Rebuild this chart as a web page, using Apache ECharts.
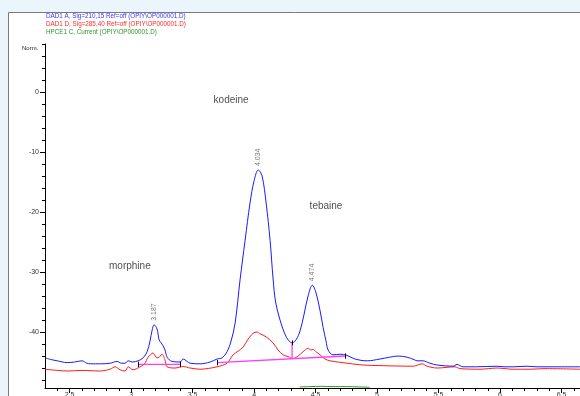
<!DOCTYPE html>
<html><head><meta charset="utf-8">
<script src="https://cdn.jsdelivr.net/npm/echarts@6/dist/echarts.min.js"></script>
<style>html,body{margin:0;padding:0;background:#eaf5fc}#c{width:580px;height:396px}</style>
</head><body><div id="c"></div>
<script>
// DAD1 A (blue) trace: [time (min), Norm.]
const blueTrace = [[2.301,-44.3],[2.35,-44.6],[2.40,-44.8],[2.48,-45.1],[2.54,-45.0],[2.60,-44.8],[2.64,-45.2],[2.67,-45.3],[2.75,-45.3],[2.83,-45.2],[2.886,-44.9],[2.92,-45.2],[2.951,-45.2],[2.976,-44.8],[3.01,-45.0],[3.057,-44.8],[3.098,-44.3],[3.130,-43.3],[3.154,-41.5],[3.171,-39.7],[3.187,-38.8],[3.211,-39.5],[3.228,-41.3],[3.244,-41.8],[3.260,-42.3],[3.276,-43.0],[3.293,-44.2],[3.333,-44.9],[3.398,-45.0],[3.423,-44.5],[3.455,-44.9],[3.480,-45.2],[3.561,-45.3],[3.642,-45.0],[3.699,-44.5],[3.740,-44.3],[3.780,-43.3],[3.813,-41.5],[3.846,-38.5],[3.886,-31.3],[3.927,-24.7],[3.967,-18.5],[4.000,-14.8],[4.034,-13.0],[4.065,-14.0],[4.098,-18.5],[4.130,-24.7],[4.154,-31.0],[4.175,-35.0],[4.211,-38.0],[4.250,-40.3],[4.280,-41.4],[4.309,-41.8],[4.341,-41.3],[4.374,-39.8],[4.407,-37.0],[4.439,-34.0],[4.474,-32.2],[4.504,-33.5],[4.537,-36.5],[4.561,-39.2],[4.585,-41.5],[4.602,-43.0],[4.642,-43.8],[4.699,-43.7],[4.756,-43.9],[4.821,-44.5],[4.919,-44.8],[5.024,-44.5],[5.10,-44.2],[5.171,-44.0],[5.244,-44.2],[5.30,-44.6],[5.325,-44.8],[5.374,-44.8],[5.43,-45.2],[5.488,-45.5],[5.618,-45.7],[5.650,-45.4],[5.699,-45.8],[5.80,-45.8],[5.976,-45.7],[6.04,-45.8],[6.106,-45.8],[6.220,-45.7],[6.30,-45.8],[6.382,-45.8],[6.50,-45.8],[6.650,-45.8]];
// DAD1 D (red) trace
const redTrace = [[2.301,-46.2],[2.40,-46.4],[2.48,-46.5],[2.60,-46.4],[2.748,-46.5],[2.829,-46.2],[2.870,-45.8],[2.911,-46.3],[2.951,-46.5],[2.976,-45.8],[3.016,-46.3],[3.073,-45.8],[3.110,-45.3],[3.138,-44.2],[3.179,-43.5],[3.203,-44.2],[3.220,-44.3],[3.252,-43.7],[3.276,-44.7],[3.293,-45.8],[3.358,-46.0],[3.423,-45.75],[3.480,-46.0],[3.561,-46.2],[3.699,-45.8],[3.780,-45.2],[3.829,-43.8],[3.870,-43.2],[3.911,-42.5],[3.951,-41.2],[3.992,-40.2],[4.024,-40.0],[4.049,-40.3],[4.098,-40.8],[4.154,-41.8],[4.195,-43.0],[4.236,-43.8],[4.276,-44.1],[4.317,-44.4],[4.358,-44.0],[4.398,-43.3],[4.439,-42.7],[4.463,-43.0],[4.480,-42.9],[4.504,-43.3],[4.537,-43.8],[4.577,-44.5],[4.618,-44.8],[4.756,-45.2],[4.886,-45.5],[5.024,-45.6],[5.293,-45.7],[5.366,-45.3],[5.407,-45.7],[5.488,-46.0],[5.634,-45.8],[5.675,-46.1],[5.837,-46.2],[5.976,-46.0],[6.106,-46.2],[6.244,-46.2],[6.366,-46.1],[6.650,-46.2]];
// HPCE1 C current (green)
const greenTrace = [[4.37,-49.15],[4.45,-49.1],[4.55,-49.05],[4.65,-49.1],[4.75,-49.1],[4.85,-49.15],[4.94,-49.2]];
// integration baselines
const baseline1 = [[3.057,-45.4],[3.398,-45.4]];
const baseline2 = [[3.699,-45.1],[4.740,-44.0]];
const dropLine = [[4.309,-41.8],[4.309,-44.46]];
const baselineMarkTimes = [3.057,3.398,3.699,4.740];
const baselineMarkValues = [-45.4,-45.4,-45.1,-44.0];
// peaks
const peakTimes = [3.187,4.034,4.474];
const peakValues = [-38.8,-13.0,-32.2];
// compound annotations
const compoundNames = ['morphine','kodeine','tebaine'];
const compoundTimes = [2.99,3.813,4.585];
const compoundValues = [-29.0,-1.4,-19.0];
// ticks
const xMajorTicks = [2.5,3,3.5,4,4.5,5,5.5,6,6.5];
const xMinorTicks = [2.4,2.5,2.6,2.7,2.8,2.9,3.0,3.1,3.2,3.3,3.4,3.5,3.6,3.7,3.8,3.9,4.0,4.1,4.2,4.3,4.4,4.5,4.6,4.7,4.8,4.9,5.0,5.1,5.2,5.3,5.4,5.5,5.6,5.7,5.8,5.9,6.0,6.1,6.2,6.3,6.4,6.5,6.6];
const yMajorTicks = [-40,-30,-20,-10,0];
const yMinorTicks = [-48,-46,-44,-42,-40,-38,-36,-34,-32,-30,-28,-26,-24,-22,-20,-18,-16,-14,-12,-10,-8,-6,-4,-2,0,2,4,6,8];
const legendLines = ['DAD1 A, Sig=210,15 Ref=off (OPIY\\OP000001.D)','DAD1 D, Sig=285,40 Ref=off (OPIY\\OP000001.D)','HPCE1 C, Current (OPIY\\OP000001.D)'];
const legendColors = ['#3535ff','#ff2a2a','#2e962e'];

const FF = '"Liberation Sans", Arial, sans-serif';
const chart = echarts.init(document.getElementById('c'), null, {renderer:'canvas'});

const graphics = [
  {type:'rect', z:-10, shape:{x:8.5,y:12.5,width:600,height:400}, style:{fill:'#ffffff', stroke:'#7a7a7a', lineWidth:1}},
  {type:'text', z:10, x:22, y:48, style:{text:'Norm.', font:'6px '+FF, fill:'#222', verticalAlign:'middle'}}
];
legendLines.forEach((t,i)=>{
  graphics.push({type:'text', z:10, x:46, y:16+i*8.3, style:{text:t, font:'6.3px '+FF, fill:legendColors[i], verticalAlign:'middle'}});
});

const markSegs = baselineMarkTimes.map((t,i)=>({coords:[[t,baselineMarkValues[i]+0.45],[t,baselineMarkValues[i]-0.45]]}));
markSegs.push({coords:[[4.309,-41.4],[4.309,-42.2]]});

const axisLineStyle = {color:'#000', width:1};
const option = {
  backgroundColor:'#eaf5fc',
  animation:false,
  graphic: graphics,
  grid:{left:45, right:0, top:44, bottom:8, containLabel:false, outerBoundsMode:'none'},
  xAxis:[
    {type:'value', min:2.3, max:6.65, position:'bottom',
     axisLine:{show:true, onZero:false, lineStyle:axisLineStyle},
     axisTick:{show:true, customValues:xMinorTicks, length:3, inside:false, lineStyle:axisLineStyle},
     axisLabel:{show:true, customValues:xMajorTicks, margin:4, fontSize:7, color:'#333', fontFamily:FF, verticalAlign:'top', hideOverlap:false},
     splitLine:{show:false}},
    {type:'value', min:2.3, max:6.65, position:'bottom',
     axisLine:{show:false, onZero:false},
     axisTick:{show:true, customValues:xMajorTicks, length:5, lineStyle:axisLineStyle},
     axisLabel:{show:false}, splitLine:{show:false}}
  ],
  yAxis:[
    {type:'value', min:-49.33, max:8, position:'left',
     axisLine:{show:true, onZero:false, lineStyle:axisLineStyle},
     axisTick:{show:true, customValues:yMinorTicks, length:3, lineStyle:axisLineStyle},
     axisLabel:{show:true, customValues:yMajorTicks, margin:6, fontSize:7, color:'#333', fontFamily:FF},
     splitLine:{show:false}},
    {type:'value', min:-49.33, max:8, position:'left',
     axisLine:{show:false, onZero:false},
     axisTick:{show:true, customValues:yMajorTicks, length:5, lineStyle:axisLineStyle},
     axisLabel:{show:false}, splitLine:{show:false}}
  ],
  series:[
    {type:'line', name:'HPCE1 C', data:greenTrace, showSymbol:false, smooth:0.3, lineStyle:{color:'#2e962e', width:1}, z:3},
    {type:'line', name:'DAD1 D', data:redTrace, showSymbol:false, smooth:0.3, lineStyle:{color:'#ff1a1a', width:1}, z:4},
    {type:'line', name:'DAD1 A', data:blueTrace, showSymbol:false, smooth:0.35, lineStyle:{color:'#1a1aff', width:1}, z:5},
    {type:'line', name:'baseline1', data:baseline1, showSymbol:false, lineStyle:{color:'#ff3cff', width:1.3}, z:6},
    {type:'line', name:'baseline2', data:baseline2, showSymbol:false, lineStyle:{color:'#ff3cff', width:1.3}, z:6},
    {type:'line', name:'drop', data:dropLine, showSymbol:false, lineStyle:{color:'#ff3cff', width:1.3}, z:6},
    {type:'lines', coordinateSystem:'cartesian2d', data:markSegs, lineStyle:{color:'#000', width:1, opacity:1}, z:7},
    {type:'scatter', name:'peaks', data:peakTimes.map((t,i)=>[t,peakValues[i]]), symbolSize:2, itemStyle:{color:'rgba(0,0,0,0)'},
     label:{show:true, position:'top', distance:3, rotate:90, align:'left', verticalAlign:'middle', fontSize:7, color:'#555', fontFamily:FF,
       formatter:p=>peakTimes[p.dataIndex].toFixed(3)}, z:8},
    {type:'scatter', name:'compounds', data:compoundTimes.map((t,i)=>[t,compoundValues[i]]), symbolSize:2, itemStyle:{color:'rgba(0,0,0,0)'},
     label:{show:true, position:'inside', fontSize:10, color:'#222', fontFamily:FF,
       formatter:p=>compoundNames[p.dataIndex]}, z:8}
  ]
};
chart.setOption(option);
</script></body></html>
